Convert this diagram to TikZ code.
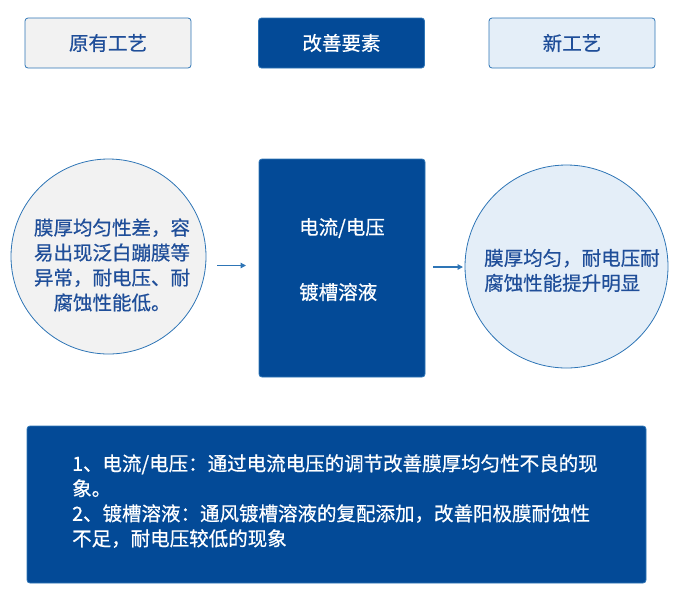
\documentclass[tikz,border=0pt]{standalone}
\usepackage{fontspec}
\setmainfont{Noto Sans CJK SC}[FakeBold=0.6]
\usetikzlibrary{arrows.meta}
\definecolor{navy}{HTML}{034A97}
\definecolor{edgeblue}{HTML}{2E75B6}
\definecolor{txtblue}{HTML}{1F4E99}
\definecolor{lgray}{HTML}{F2F2F2}
\definecolor{lblue}{HTML}{E4EEF8}
\tikzset{
  x=1pt,y=-1pt,
  hdr/.style={draw=edgeblue,line width=0.8pt,rounded corners=3pt,minimum width=166pt,minimum height=50pt,inner sep=0pt,font=\fontsize{19.5}{25}\selectfont},
  bigbox/.style={draw=edgeblue,fill=navy,line width=0.8pt,rounded corners=3pt,inner sep=0pt},
  circ/.style={circle,draw=edgeblue,line width=0.8pt,inner sep=0pt,text=txtblue,font=\fontsize{19.5}{25}\selectfont},
  txt/.style={inner sep=0pt,font=\fontsize{19.5}{25}\selectfont},
  arr/.style={draw=edgeblue,line width=1.5pt,-{Triangle[length=5.5pt,width=5.5pt]}}
}
\begin{document}
\begin{tikzpicture}
\useasboundingbox (0,0) rectangle (684,598);
% headers
\node[hdr,fill=lgray,text=txtblue] (h1) at (108,43) {原有工艺};
\node[hdr,fill=navy,text=white] (h2) at (341.5,43) {改善要素};
\node[hdr,fill=lblue,text=txtblue] (h3) at (572,43) {新工艺};
% left circle
\node[circ,fill=lgray,minimum size=195pt] (c1) at (108.5,256.5) {};
\node[txt,text=txtblue,align=center] (t1) at (112,265) {膜厚均匀性差，容\\易出现泛白蹦膜等\\异常，耐电压、耐\\腐蚀性能低。};
% middle box
\node[bigbox,minimum width=166pt,minimum height=218pt] (mid) at (342,268) {};
\node[txt,text=white,anchor=west] (m1) at (299,228) {电流/电压};
\node[txt,text=white,anchor=west] (m2) at (299,292) {镀槽溶液};
% right circle
\node[circ,fill=lblue,minimum size=203pt] (c3) at (566.5,266.5) {};
\node[txt,text=txtblue,align=left,anchor=west] (t3) at (484,270.5) {膜厚均匀，耐电压耐\\腐蚀性能提升明显};
% arrows
\coordinate (a1s) at (217,265.5);
\coordinate (a1e) at (246,265.5);
\draw[arr] (a1s) -- (a1e);
\coordinate (a2s) at (433,267);
\coordinate (a2e) at (463,267);
\draw[arr] (a2s) -- (a2e);
% bottom box
\node[bigbox,minimum width=619pt,minimum height=157pt] (bot) at (336.5,504.5) {};
\node[txt,text=white,align=left,anchor=north west] (bt) at (72,454) {1、电流/电压：通过电流电压的调节改善膜厚均匀性不良的现\\象。\\2、镀槽溶液：通风镀槽溶液的复配添加，改善阳极膜耐蚀性\\不足，耐电压较低的现象};
\end{tikzpicture}
\end{document}
